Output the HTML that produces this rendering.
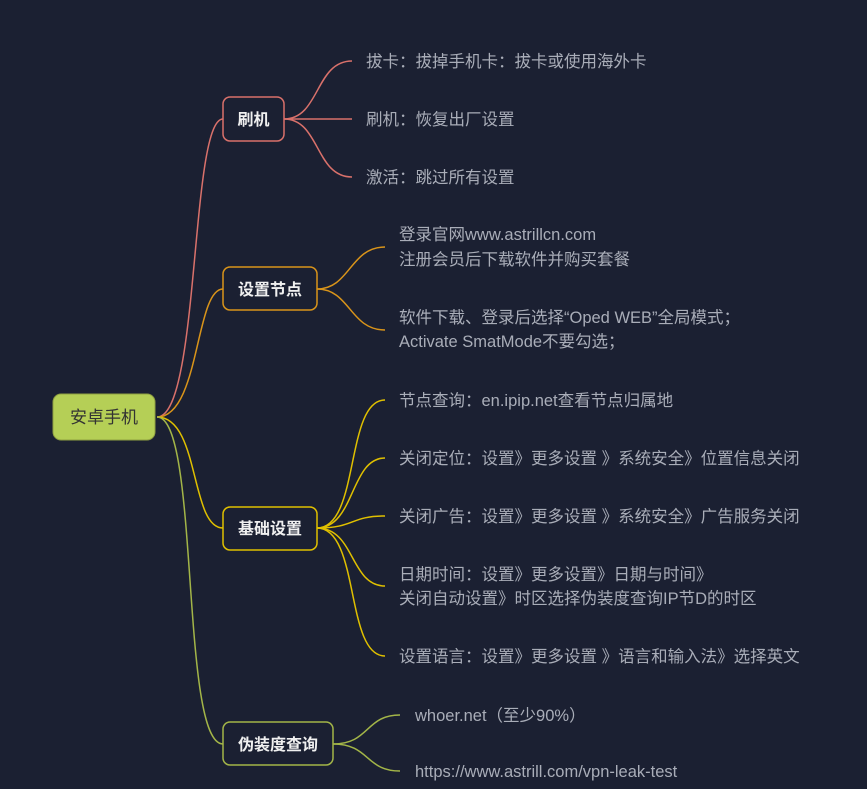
<!DOCTYPE html>
<html><head><meta charset="utf-8"><style>
html,body{margin:0;padding:0;background:#1b2032;}
svg{display:block}
text{font-family:"Liberation Sans","Noto Sans CJK SC",sans-serif;}
.l{fill:#a9adb8;font-size:16.5px;}
.b{fill:#f0f0f0;font-size:16px;font-weight:bold;}
</style></head><body>
<svg width="867" height="789" viewBox="0 0 867 789" xmlns="http://www.w3.org/2000/svg">
<rect width="867" height="789" fill="#1b2032"/>
<g fill="none" stroke-width="1.5">
<!-- root to mains -->
<path d="M157,417 C200,417 190,119 223,119" stroke="#d9716b"/>
<path d="M157,417 C200,417 195,289 223,289" stroke="#d9941a"/>
<path d="M157,417 C200,417 190,528 223,528" stroke="#e0c000"/>
<path d="M157,417 C200,417 180,744 223,744" stroke="#a3b548"/>
<!-- 刷机 -->
<path d="M284,119 C320,119 315,61 352,61" stroke="#d9716b"/>
<path d="M284,119 L352,119" stroke="#d9716b"/>
<path d="M284,119 C320,119 315,177 352,177" stroke="#d9716b"/>
<!-- 设置节点 -->
<path d="M317,289 C350,289 350,247 385,247" stroke="#d9941a"/>
<path d="M317,289 C350,289 350,330 385,330" stroke="#d9941a"/>
<!-- 基础设置 -->
<path d="M317,528 C360,528 345,400 385,400" stroke="#e0c000"/>
<path d="M317,528 C355,528 350,458 385,458" stroke="#e0c000"/>
<path d="M317,528 C355,528 350,516 385,516" stroke="#e0c000"/>
<path d="M317,528 C355,528 350,586 385,586" stroke="#e0c000"/>
<path d="M317,528 C360,528 345,656 385,656" stroke="#e0c000"/>
<!-- 伪装度 -->
<path d="M333,744 C370,744 365,715 400,715" stroke="#a3b548"/>
<path d="M333,744 C370,744 365,771 400,771" stroke="#a3b548"/>
</g>
<rect x="53" y="394" width="102" height="46" rx="8" fill="#b5cf56" stroke="#8fa040"/>
<text x="104" y="423" text-anchor="middle" style="font-size:17px;fill:#333">安卓手机</text>
<rect x="223" y="97" width="61" height="44" rx="7" fill="#1b2032" stroke="#d9716b" stroke-width="1.5"/>
<text x="253.5" y="125" text-anchor="middle" class="b">刷机</text>
<rect x="223" y="267" width="94" height="43" rx="7" fill="#1b2032" stroke="#d9941a" stroke-width="1.5"/>
<text x="270" y="295" text-anchor="middle" class="b">设置节点</text>
<rect x="223" y="507" width="94" height="43" rx="7" fill="#1b2032" stroke="#e0c000" stroke-width="1.5"/>
<text x="270" y="534" text-anchor="middle" class="b">基础设置</text>
<rect x="223" y="722" width="110" height="43" rx="7" fill="#1b2032" stroke="#a3b548" stroke-width="1.5"/>
<text x="278" y="750" text-anchor="middle" class="b">伪装度查询</text>
<text x="366" y="67" class="l">拔卡：拔掉手机卡：拔卡或使用海外卡</text>
<text x="366" y="125" class="l">刷机：恢复出厂设置</text>
<text x="366" y="183" class="l">激活：跳过所有设置</text>
<text x="399" y="240" class="l">登录官网www.astrillcn.com</text>
<text x="399" y="265" class="l">注册会员后下载软件并购买套餐</text>
<text x="399" y="323" class="l">软件下载、登录后选择“Oped WEB”全局模式；</text>
<text x="399" y="347" class="l">Activate SmatMode不要勾选；</text>
<text x="399" y="406" class="l">节点查询：en.ipip.net查看节点归属地</text>
<text x="399" y="464" class="l">关闭定位：设置》更多设置 》系统安全》位置信息关闭</text>
<text x="399" y="522" class="l">关闭广告：设置》更多设置 》系统安全》广告服务关闭</text>
<text x="399" y="580" class="l">日期时间：设置》更多设置》日期与时间》</text>
<text x="399" y="604" class="l">关闭自动设置》时区选择伪装度查询IP节D的时区</text>
<text x="399" y="662" class="l">设置语言：设置》更多设置 》语言和输入法》选择英文</text>
<text x="415" y="721" class="l">whoer.net（至少90%）</text>
<text x="415" y="777" class="l">https://www.astrill.com/vpn-leak-test</text>
</svg>
</body></html>
